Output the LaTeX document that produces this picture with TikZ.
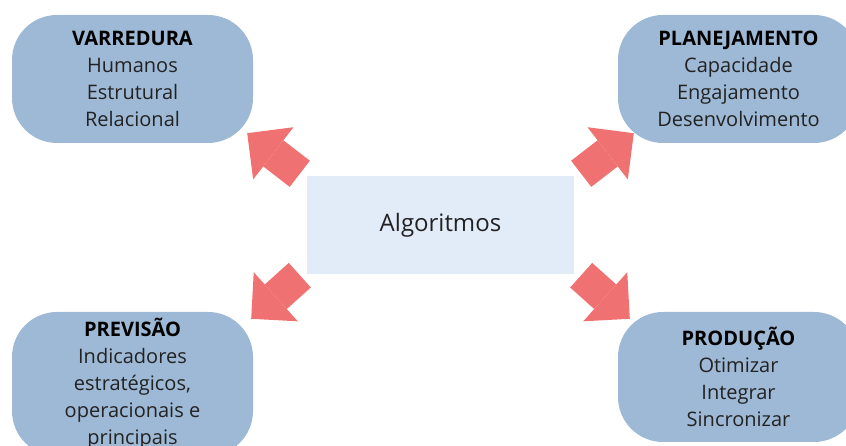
\documentclass[tikz,border=0pt]{standalone}
\usepackage{fontspec}
\setmainfont{Open Sans}
\usepackage{xcolor}
\usetikzlibrary{arrows.meta,positioning}
\definecolor{topicblue}{HTML}{9EB9D5}
\definecolor{algoblue}{HTML}{E2EBF8}
\definecolor{arrowred}{HTML}{F07171}
\definecolor{textgray}{HTML}{222222}

\begin{document}
\begin{tikzpicture}[x=1pt, y=1pt, font=\fontsize{20}{27}\selectfont, text=textgray]
        \tikzstyle{topic}=[fill=topicblue, rounded corners=45pt, minimum width=241pt, align=center, inner sep=0pt]
        \tikzstyle{bigarrow}=[color=arrowred, line width=33pt, -{Triangle[width=66pt,length=33pt,line width=0pt]}]
        \clip (0,0) rectangle (846,446);
        \node[fill=algoblue, minimum width=267pt, minimum height=98pt, font=\fontsize{24}{29}\selectfont]
              (algo) at (440.5,221) {Algoritmos};
        \node[topic, minimum height=128pt] (varr) at (132.5,367)
              {\textcolor{black}{\textbf{VARREDURA}}\\Humanos\\Estrutural\\Relacional};
        \node[topic, minimum height=128pt] (plan) at (738.5,367)
              {\textcolor{black}{\textbf{PLANEJAMENTO}}\\Capacidade\\Engajamento\\Desenvolvimento};
        \node[topic, minimum height=144pt] (prev) at (132.5,62)
              {\textcolor{black}{\textbf{PREVISÃO}}\\Indicadores\\estratégicos,\\operacionais e\\principais};
        \node[topic, minimum height=130pt] (prod) at (738.5,69)
              {\textcolor{black}{\textbf{PRODUÇÃO}}\\Otimizar\\Integrar\\Sincronizar};
        \draw[bigarrow] ([shift={(-7,2)}]algo.north west) -- ([shift={(-6,10)}]varr.south east);
        \draw[bigarrow] ([shift={(7,2)}]algo.north east) -- ([shift={(16,10)}]plan.south west);
        \draw[bigarrow] ([shift={(-7,-1)}]algo.south west) -- ([shift={(-2,-7)}]prev.north east);
        \draw[bigarrow] ([shift={(7,-1)}]algo.south east) -- ([shift={(12,-7)}]prod.north west);
    \end{tikzpicture}
\end{document}
